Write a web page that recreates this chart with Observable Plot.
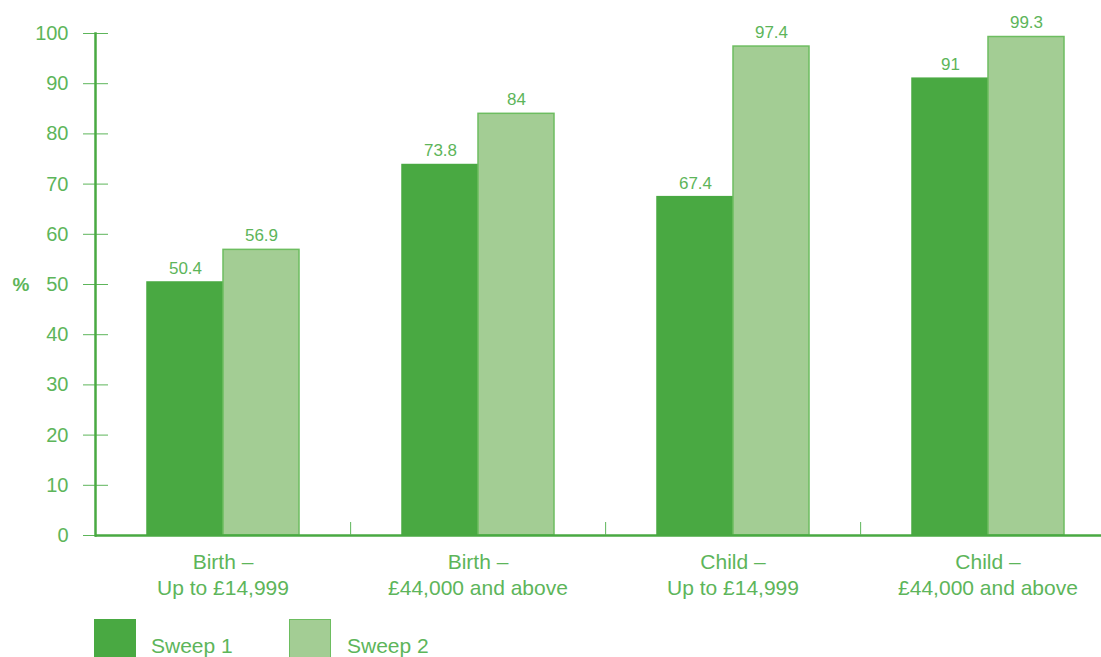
<!DOCTYPE html>
<html><head><meta charset="utf-8">
<script src="https://cdn.jsdelivr.net/npm/d3@7"></script>
<script src="https://cdn.jsdelivr.net/npm/@observablehq/plot@0.6"></script>
<style>
body{margin:0;overflow:hidden;background:#fff;font-family:"Liberation Sans",Arial,sans-serif}
#legend{position:relative;height:60px}
.sw{position:absolute;top:9px;width:42px;height:50px;box-sizing:border-box}
.lt{position:absolute;top:24px;font-size:21px;color:#5db55a;line-height:24px}
</style></head>
<body>
<div id="chart"></div>
<div id="legend"></div>
<script>
const categories = ["Birth –\nUp to £14,999", "Birth –\n£44,000 and above", "Child –\nUp to £14,999", "Child –\n£44,000 and above"];
const seriesNames = ["Sweep 1", "Sweep 2"];
const sweep1 = [50.4, 73.8, 67.4, 91];
const sweep2 = [56.9, 84, 97.4, 99.3];
const yTicks = [0, 10, 20, 30, 40, 50, 60, 70, 80, 90, 100];
const colors = ["#49a942", "#a3cd94"];
const strokes = ["#49a942", "#6dbd60"];
const textColor = "#5db55a";
const axisColor = "#49a942";

const data = categories.flatMap((c, i) => [
  {category: c, series: seriesNames[0], value: sweep1[i]},
  {category: c, series: seriesNames[1], value: sweep2[i]}
]);

const left = 94, right = 1115;
const halfBand = (right - left) / categories.length / 2;

const plot = Plot.plot({
  width: 1101,
  height: 610,
  marginTop: 33,
  marginBottom: 75,
  marginLeft: left,
  marginRight: 0,
  style: {fontFamily: '"Liberation Sans", Arial, sans-serif', color: textColor, background: "#fff", overflow: "visible"},
  fx: {domain: categories, range: [left, right], padding: 0, label: null},
  x: {domain: seriesNames, paddingInner: 0, paddingOuter: 0.656, axis: null},
  y: {domain: [0, 100], label: null},
  color: {domain: seriesNames, range: colors},
  marks: [
    ...seriesNames.map((s, i) => Plot.barY(data.filter(d => d.series === s), {
      fx: "category", x: "series", y: "value", fill: colors[i], stroke: strokes[i], strokeWidth: 1.5})),
    Plot.text(data, {fx: "category", x: "series", y: "value", text: d => String(d.value),
      dy: -14, fontSize: 17, fill: textColor}),
    Plot.axisY({ticks: yTicks, tickSize: 25, dx: 13, tickFormat: () => "", stroke: textColor, strokeWidth: 1, label: null}),
    Plot.axisY({ticks: yTicks, tickSize: 0, tickPadding: 27, fontSize: 20, fill: textColor, label: null}),
    Plot.text(["%"], {fx: () => categories[0], y: () => 50, frameAnchor: "left", dx: -83, text: d => d,
      fontSize: 19, fontWeight: "bold", fill: textColor}),
    Plot.ruleY([0], {stroke: axisColor, strokeWidth: 2.5}),
    Plot.frame({anchor: "left", facetAnchor: "left", stroke: axisColor, strokeWidth: 2.5}),
    Plot.axisFx({anchor: "bottom", tickSize: -13, dx: halfBand, tickFormat: () => "", stroke: textColor, strokeWidth: 1, label: null}),
    Plot.axisFx({anchor: "bottom", tickSize: 0, tickPadding: 15, fontSize: 21, fill: textColor, lineHeight: 1.25, label: null})
  ]
});
document.getElementById("chart").appendChild(plot);

const legend = document.getElementById("legend");
const swX = [94, 289], txX = [151, 347];
seriesNames.forEach((s, i) => {
  const sw = document.createElement("div");
  sw.className = "sw";
  sw.style.left = swX[i] + "px";
  sw.style.background = colors[i];
  if (i === 1) sw.style.border = "1.5px solid #6dbd60";
  legend.appendChild(sw);
  const t = document.createElement("div");
  t.className = "lt";
  t.style.left = txX[i] + "px";
  t.textContent = s;
  legend.appendChild(t);
});
</script>
</body></html>
